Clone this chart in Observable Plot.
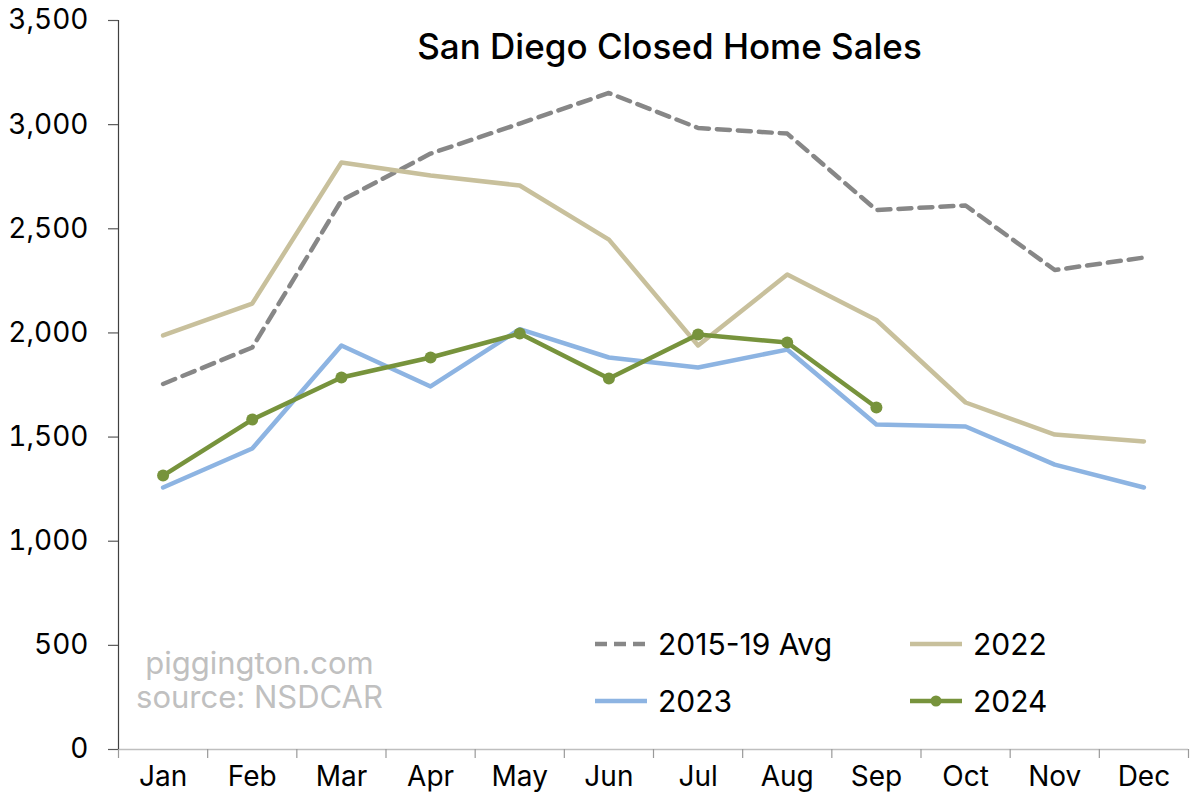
<!DOCTYPE html>
<html><head><meta charset="utf-8">
<script src="https://cdn.jsdelivr.net/npm/d3@7"></script>
<script src="https://cdn.jsdelivr.net/npm/@observablehq/plot@0.6"></script>
<style>
body{margin:0;background:#fff;font-family:Inter, "Noto Sans", sans-serif;}
#wrap{position:relative;width:1200px;height:799px;overflow:hidden;}
.lg{position:absolute;font-size:30px;color:#000;line-height:36px;height:36px;white-space:nowrap;}
.sw{position:absolute;}
</style></head><body>
<div id="wrap"><div id="chart"></div><div id="legend"></div></div>
<script>
const months = ["Jan","Feb","Mar","Apr","May","Jun","Jul","Aug","Sep","Oct","Nov","Dec"];
const avg1519 = [1755, 1930, 2636, 2861, 3005, 3152, 2984, 2957, 2590, 2612, 2302, 2362];
const y2022 = [1988, 2141, 2818, 2756, 2708, 2448, 1940, 2280, 2062, 1666, 1512, 1479];
const y2023 = [1258, 1445, 1940, 1743, 2018, 1882, 1834, 1920, 1560, 1551, 1368, 1258];
const y2024 = [1315, 1584, 1786, 1882, 1997, 1781, 1992, 1954, 1642];
const yTicks = [0, 500, 1000, 1500, 2000, 2500, 3000, 3500];
const seriesNames = ["2015-19 Avg", "2022", "2023", "2024"];
const seriesColors = ["#878787", "#c8c09c", "#8db4e2", "#77933c"];
const titleText = "San Diego Closed Home Sales";
const watermark = ["piggington.com", "source: NSDCAR"];

const monthIdx = months.map((m, i) => i);
const bounds = months.map((m, i) => i - 0.5).concat([months.length - 0.5]);
const lw = 4.5;

const chart = Plot.plot({
  width: 1200, height: 799,
  marginLeft: 118, marginRight: 12, marginTop: 20, marginBottom: 50,
  style: {fontFamily: "Inter, 'Noto Sans', sans-serif", background: "white", overflow: "visible"},
  x: {domain: [-0.5, months.length - 0.5], axis: null},
  y: {domain: [0, 3500], axis: null},
  marks: [
    Plot.ruleY([0], {stroke: "#bfbfbf", strokeWidth: 1.3}),
    Plot.axisX(bounds, {anchor: "bottom", tickSize: 9, tickFormat: () => "", stroke: "#9a9a9a", strokeWidth: 1.2, label: null}),
    Plot.axisX(monthIdx, {anchor: "bottom", tickSize: 0, tickPadding: 17, tickFormat: i => months[i], fontSize: 28, fill: "black", label: null}),
    Plot.ruleX([-0.5], {y1: 0, y2: 3500, stroke: "#404040", strokeWidth: 1.2}),
    Plot.axisY(yTicks, {anchor: "left", tickSize: 10, tickPadding: 20, tickFormat: d3.format(","), fontSize: 28, stroke: "#595959", strokeWidth: 1.2, fill: "black", label: null}),
    Plot.lineY(avg1519, {stroke: seriesColors[0], strokeWidth: lw, strokeDasharray: "13,8"}),
    Plot.lineY(y2022, {stroke: seriesColors[1], strokeWidth: lw}),
    Plot.lineY(y2023, {stroke: seriesColors[2], strokeWidth: lw}),
    Plot.lineY(y2024, {stroke: seriesColors[3], strokeWidth: lw}),
    Plot.dot(y2024, {x: (d, i) => i, y: d => d, r: 6, fill: seriesColors[3], stroke: "none"}),
    Plot.text([titleText], {frameAnchor: "top", dx: 16, dy: 27, lineAnchor: "middle", fontSize: 35, fontWeight: 500, fill: "black"}),
    Plot.text([watermark.join("\n")], {frameAnchor: "bottom-left", dx: 141, dy: -69, textAnchor: "middle", lineAnchor: "middle", lineHeight: 1.1, fontSize: 31, fill: "#c0c0c0"})
  ]
});
document.getElementById("chart").appendChild(chart);

// legend overlay
const legend = document.getElementById("legend");
const legendPos = [
  {sx: 595, tx: 658, y: 644},
  {sx: 910, tx: 973, y: 644},
  {sx: 595, tx: 658, y: 701},
  {sx: 910, tx: 973, y: 701}
];
seriesNames.forEach((name, i) => {
  const p = legendPos[i];
  const w = 52;
  const sw = document.createElementNS("http://www.w3.org/2000/svg", "svg");
  sw.setAttribute("class", "sw");
  sw.setAttribute("width", w);
  sw.setAttribute("height", 14);
  sw.style.left = p.sx + "px";
  sw.style.top = (p.y - 7) + "px";
  const ln = document.createElementNS("http://www.w3.org/2000/svg", "line");
  ln.setAttribute("x1", 0); ln.setAttribute("x2", w);
  ln.setAttribute("y1", 7); ln.setAttribute("y2", 7);
  ln.setAttribute("stroke", seriesColors[i]);
  ln.setAttribute("stroke-width", lw);
  if (i === 0) ln.setAttribute("stroke-dasharray", "12,7");
  sw.appendChild(ln);
  if (i === 3) {
    const c = document.createElementNS("http://www.w3.org/2000/svg", "circle");
    c.setAttribute("cx", w / 2); c.setAttribute("cy", 7); c.setAttribute("r", 5.5);
    c.setAttribute("fill", seriesColors[i]);
    sw.appendChild(c);
  }
  legend.appendChild(sw);
  const t = document.createElement("div");
  t.className = "lg";
  t.textContent = name;
  t.style.left = p.tx + "px";
  t.style.top = (p.y - 18) + "px";
  legend.appendChild(t);
});
</script>
</body></html>
